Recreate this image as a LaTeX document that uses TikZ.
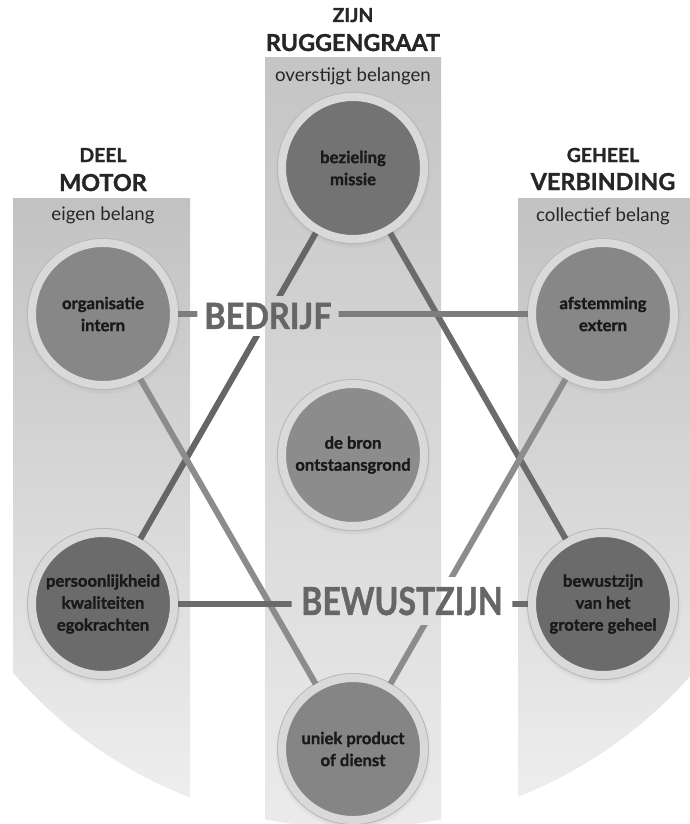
\documentclass[tikz,border=0pt]{standalone}
\usepackage{fontspec}
\setmainfont{Lato}[BoldFeatures={FakeBold=1.3}]
\usepackage{graphicx}
\usetikzlibrary{shadows}

\begin{document}
\begin{tikzpicture}[x=0.75pt,y=-0.75pt,semithick]
  \tikzstyle{bol}=[circle,minimum size=106.5pt,inner sep=0pt,line width=6pt,
                   draw=black!15,align=center,text=black!90,
                   font=\bfseries\fontsize{12.5}{16.5}\selectfont,
                   circular drop shadow={shadow scale=1.1,shadow xshift=0pt,
                                         shadow yshift=-1.5pt,opacity=.35},
                   preaction={draw=black!28,line width=7.5pt}]
  \tikzstyle{kop}=[anchor=base,text=black!85,font=\bfseries\fontsize{14.5}{15}\selectfont]
  \tikzstyle{titel}=[anchor=base,text=black!85,font=\bfseries\fontsize{17.5}{18}\selectfont]
  \tikzstyle{belang}=[anchor=base,text=black!85,font=\fontsize{14}{15}\selectfont]
  \tikzstyle{merk}=[text=black!60,font=\bfseries]
  \tikzstyle{lijn}=[draw,line width=4.5pt]

  \useasboundingbox (0,0) rectangle (689,824);

  % kolommen
  \begin{scope}
    \clip (353,378) circle (450);
    \shade[top color=black!24,bottom color=black!6] (13,198)  rectangle (190,824);
    \shade[top color=black!23,bottom color=black!8] (265,58)  rectangle (441,824);
    \shade[top color=black!24,bottom color=black!6] (518,198) rectangle (695,824);
  \end{scope}

  % koppen
  \node[kop]    (deel)   at (103,162) {DEEL};
  \node[titel]  (motor)  at (103,191) {MOTOR};
  \node[belang] (eigen)  at (103,220) {eigen belang};
  \node[kop]    (zijn)   at (353,22)  {ZIJN};
  \node[titel]  (rug)    at (353,51)  {RUGGENGRAAT};
  \node[belang] (over)   at (353,82)  {overstijgt belangen};
  \node[kop]    (geheel) at (603,162) {GEHEEL};
  \node[titel]  (verb)   at (603,190) {VERBINDING};
  \node[belang] (coll)   at (603,221) {collectief belang};

  % cirkels
  \node[bol,fill=black!55] (bez)   at (353,168) {bezieling\\missie};
  \node[bol,fill=black!47] (org)   at (103,314) {organisatie\\intern};
  \node[bol,fill=black!47] (afs)   at (603,314) {afstemming\\extern};
  \node[bol,fill=black!45] (bron)  at (353,455) {de bron\\ontstaansgrond};
  \node[bol,fill=black!58] (pers)  at (103,604) {persoonlijkheid\\kwaliteiten\\egokrachten};
  \node[bol,fill=black!58] (bew)   at (603,604) {bewustzijn\\van het\\grotere geheel};
  \node[bol,fill=black!48] (uniek) at (353,749) {uniek product\\of dienst};

  \node[merk,inner xsep=5pt,inner ysep=5pt] (bedrijf) at (268,316)
       {\fontsize{27}{27}\selectfont\scalebox{.9}[1]{BEDRIJF}};
  \node[merk,inner sep=7pt] (bewust) at (402,601)
       {\fontsize{29}{29}\selectfont\scalebox{.83}[1]{BEWUSTZIJN}};

  % lijnen, onderbroken bij de woorden
  \begin{scope}[even odd rule]
    \clip (0,0) rectangle (689,824)
          (bedrijf.north west) rectangle (bedrijf.south east)
          (bewust.north west)  rectangle (bewust.south east);
    \path (pers) edge[lijn,black!60] (bez)
          (bez)  edge[lijn,black!58] (bew)
          (org)  edge[lijn,black!45] (uniek)
          (afs)  edge[lijn,black!45] (uniek)
          (org)  edge[lijn,black!51] (afs)
          (pers) edge[lijn,black!58] (bew);
  \end{scope}
\end{tikzpicture}
\end{document}
